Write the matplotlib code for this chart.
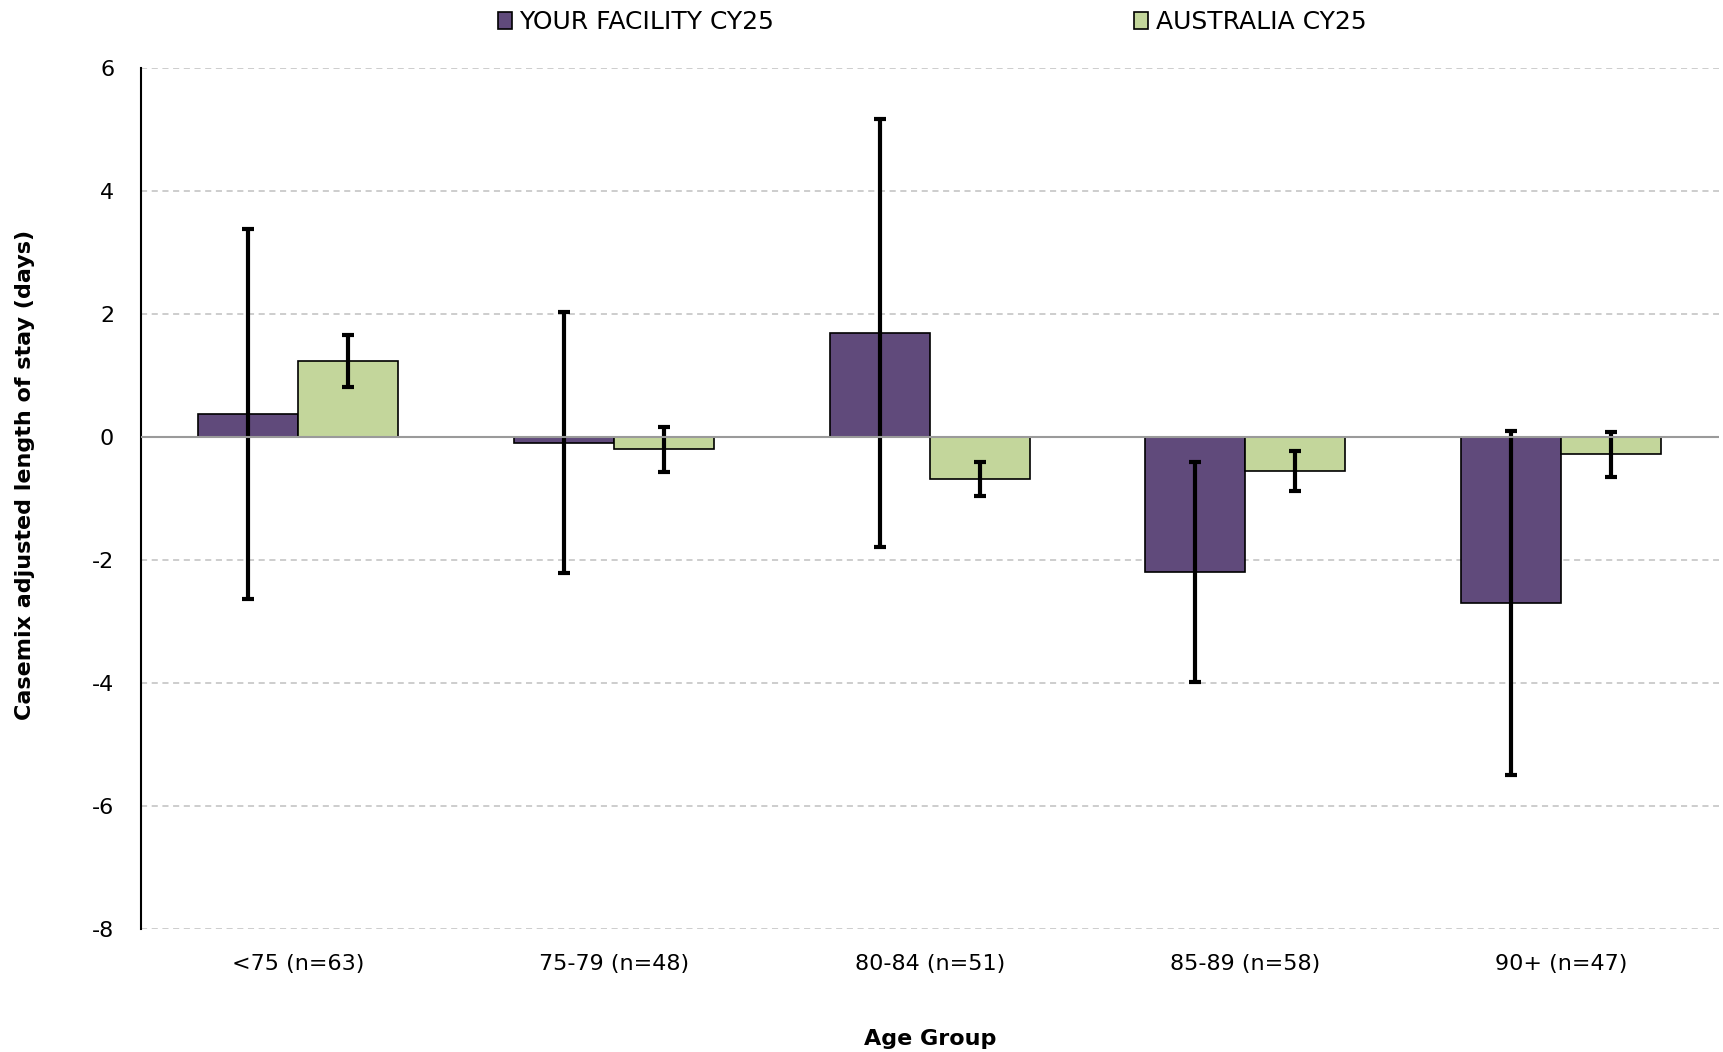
import matplotlib
matplotlib.use('Agg')
import matplotlib.pyplot as plt
import numpy as np

# ---  data  ---
age_groups = ['<75 (n=63)', '75-79 (n=48)', '80-84 (n=51)', '85-89 (n=58)', '90+ (n=47)']
facility = [0.37, -0.09, 1.69, -2.20, -2.70]
facility_err = [3.01, 2.12, 3.48, 1.79, 2.80]
australia = [1.24, -0.20, -0.68, -0.55, -0.28]
australia_err = [0.42, 0.36, 0.28, 0.33, 0.37]
series_names = ['YOUR FACILITY CY25', 'AUSTRALIA CY25']
y_ticks = [-8, -6, -4, -2, 0, 2, 4, 6]

purple = '#604A7B'
green = '#C3D69B'

plt.rcParams['font.family'] = ['DejaVu Sans']

fig = plt.figure(figsize=(17.23, 10.52), dpi=100)
ax = fig.add_axes([0.0816, 0.117, 0.916, 0.818])

x = np.arange(len(age_groups))
w = 0.317
ekw = dict(ecolor='black', elinewidth=3, capsize=4, capthick=3)

b1 = ax.bar(x - w/2, facility, w, yerr=facility_err, color=purple,
            edgecolor='black', linewidth=1.2, error_kw=ekw, zorder=3,
            label=series_names[0])
b2 = ax.bar(x + w/2, australia, w, yerr=australia_err, color=green,
            edgecolor='black', linewidth=1.2, error_kw=ekw, zorder=3,
            label=series_names[1])

ax.axhline(0, color='#9a9a9a', linewidth=1.5, zorder=4)

#---  axes styling  ---
ax.set_xlim(-0.5, len(age_groups) - 0.5)
ax.set_ylim(-8, 6)
ax.set_yticks(y_ticks)
ax.set_yticklabels([str(t) for t in y_ticks])
ax.set_xticks(x)
ax.set_xticklabels(age_groups)
ax.tick_params(axis='both', length=0, labelsize=16, colors='black')
ax.tick_params(axis='y', pad=19)
ax.tick_params(axis='x', pad=18)

ax.yaxis.grid(True, linestyle=(0, (4, 3)), color='#c0c0c0', linewidth=1.1, zorder=0)
ax.set_axisbelow(True)
for s in ['top', 'right', 'bottom']:
    ax.spines[s].set_visible(False)
ax.spines['left'].set_color('black')
ax.spines['left'].set_linewidth(1.5)

ax.set_xlabel('Age Group', fontsize=16, fontweight='bold')
ax.set_ylabel('Casemix adjusted length of stay (days)', fontsize=16, fontweight='bold')
ax.xaxis.set_label_coords(0.5, -0.116)
ax.yaxis.set_label_coords(-0.067, 0.527)

#---  legend at the top  ---
fig.legend(handles=[b1.patches[0], b2.patches[0]], labels=series_names,
           loc='center', bbox_to_anchor=(0.541, 0.979), ncol=2, frameon=False,
           fontsize=18, handlelength=0.55, handleheight=0.65, handletextpad=0.3,
           columnspacing=14.4)

plt.savefig('out.png', dpi=100)
